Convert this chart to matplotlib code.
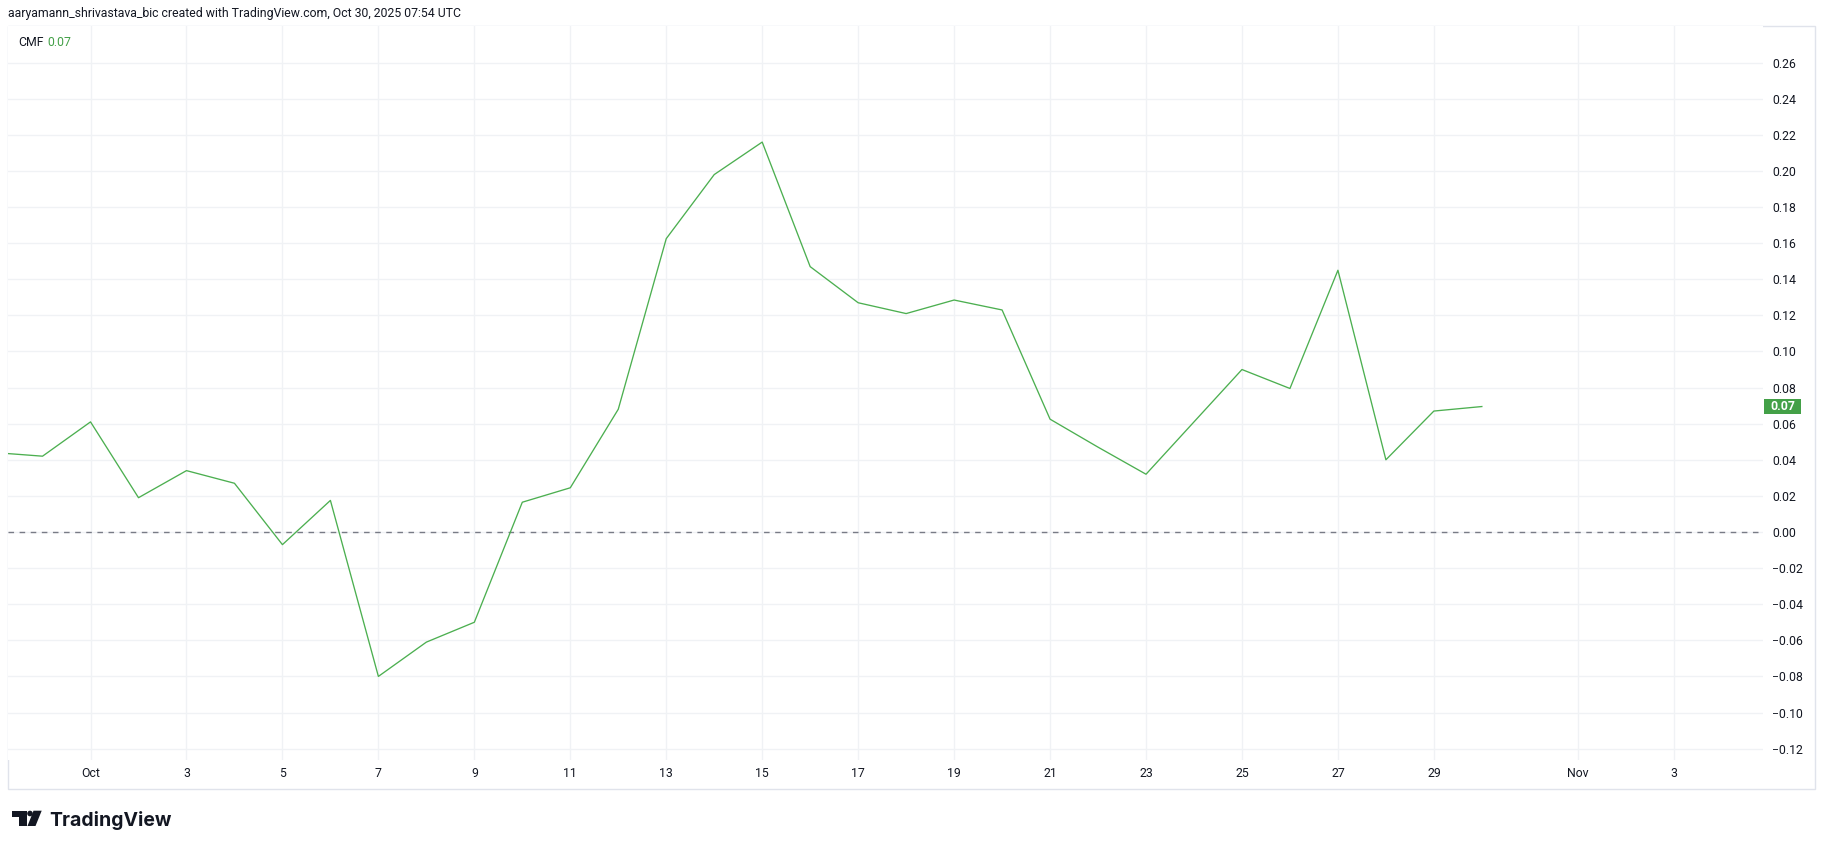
import numpy as np
import pandas as pd
import matplotlib
matplotlib.use("Agg")
import matplotlib.pyplot as plt
import matplotlib.dates as mdates
from matplotlib.patches import Rectangle, Polygon, Circle
from matplotlib.ticker import FuncFormatter
from matplotlib.transforms import blended_transform_factory

# CMF daily values, Sep 29 .. Oct 30 2025
dates = pd.date_range("2025-09-29", "2025-10-30", freq="D")
cmf = [0.044, 0.042, 0.061, 0.019, 0.034, 0.027, -0.007, 0.0175,
       -0.080, -0.061, -0.050, 0.0165, 0.0245, 0.068, 0.1625, 0.198,
       0.216, 0.147, 0.127, 0.121, 0.1285, 0.123, 0.0625, 0.047,
       0.032, 0.061, 0.090, 0.0795, 0.145, 0.040, 0.067, 0.0695]

tick_dates = pd.to_datetime(["2025-10-01", "2025-10-03", "2025-10-05", "2025-10-07",
                             "2025-10-09", "2025-10-11", "2025-10-13", "2025-10-15",
                             "2025-10-17", "2025-10-19", "2025-10-21", "2025-10-23",
                             "2025-10-25", "2025-10-27", "2025-10-29", "2025-11-01",
                             "2025-11-03"])
tick_labels = ["Oct", "3", "5", "7", "9", "11", "13", "15", "17", "19", "21",
               "23", "25", "27", "29", "Nov", "3"]
y_ticks = np.round(np.arange(-0.12, 0.261, 0.02), 2)

header = "aaryamann_shrivastava_bic created with TradingView.com, Oct 30, 2025 07:54 UTC"
last_val = cmf[-1]

GREEN = "#43a047"
LINE = "#4caf50"
TXT = "#131722"
GRID = "#f0f2f5"
plt.rcParams["font.family"] = ["Roboto", "DejaVu Sans"]

W, H = 1825, 849
fig = plt.figure(figsize=(W / 100, H / 100), dpi=100)
fig.patch.set_facecolor("white")

def fx(px):
    return px / W

def fy(py):
    return 1 - py / H

ax = fig.add_axes([fx(8), fy(760), fx(1763) - fx(8), fy(26) - fy(760)])
ax.plot(dates, cmf, color=LINE, lw=0.95, zorder=3)
ax.axhline(0, color="#787b86", lw=1.0, dashes=(4, 4), zorder=2)

x0 = pd.Timestamp("2025-10-01")
ax.set_xlim(mdates.date2num(x0 - pd.Timedelta(days=1.72)),
            mdates.date2num(x0 + pd.Timedelta(days=34.86)))
ax.set_ylim(-0.1263, 0.2803)

ax.set_xticks(tick_dates)
ax.set_xticklabels(tick_labels)
ax.set_yticks(y_ticks)
ax.yaxis.set_major_formatter(FuncFormatter(lambda v, p: f"{v:.2f}".replace("-", "\u2212")))
ax.yaxis.tick_right()
ax.tick_params(axis="both", length=0, labelsize=8.8, colors=TXT)
ax.tick_params(axis="y", pad=6.5)
ax.tick_params(axis="x", pad=5)
ax.grid(True, color=GRID, lw=1.0, zorder=0)
ax.set_axisbelow(True)
for s in ax.spines.values():
    s.set_visible(False)

# last value tag on price scale
tr = blended_transform_factory(fig.transFigure, ax.transData)
box_h = 15 / 1805
ax.add_patch(Rectangle((fx(1764), last_val - box_h / 2), fx(1801) - fx(1764), box_h,
                       transform=tr, facecolor=GREEN, edgecolor="none", clip_on=False, zorder=5))
ax.text(fx(1782.5), last_val, f"{last_val:.2f}", transform=tr, ha="center", va="center",
        color="white", fontsize=8.8, fontweight="bold", clip_on=False, zorder=6)

# overlay in pixel coordinates for frame and header
ov = fig.add_axes([0, 0, 1, 1], zorder=-1)
ov.set_xlim(0, W)
ov.set_ylim(H, 0)
ov.axis("off")
ov.add_patch(Rectangle((8, 26), 1807, 762.5, fill=False, edgecolor="#e0e3eb", lw=1.0))
ov.text(8, 13, header, ha="left", va="center", fontsize=8.8, color=TXT)

fig.text(fx(18), fy(42), "CMF", ha="left", va="center", fontsize=8.8, color=TXT)
fig.text(fx(47), fy(42), f"{last_val:.2f}", ha="left", va="center", fontsize=8.8, color=GREEN)

# TradingView logo
lg = fig.add_axes([0, 0, 1, 1], zorder=2)
lg.set_xlim(0, W)
lg.set_ylim(H, 0)
lg.axis("off")
lg.add_patch(Polygon([(12, 810.7), (26.7, 810.7), (26.7, 826), (19.3, 826), (19.3, 816.7), (12, 816.7)],
                     closed=True, facecolor="#131722", edgecolor="none"))
lg.add_patch(Circle((30, 813.5), 2.8, facecolor="#131722", edgecolor="none"))
lg.add_patch(Polygon([(33.5, 810.7), (41.7, 810.7), (35.5, 826), (27.5, 826)],
                     closed=True, facecolor="#131722", edgecolor="none"))
lg.text(49, 826, "TradingView", ha="left", va="baseline", fontsize=14,
        fontweight="bold", color="#131722", family=["Inter", "DejaVu Sans"])

fig.savefig("out.png", dpi=100, facecolor="white")
